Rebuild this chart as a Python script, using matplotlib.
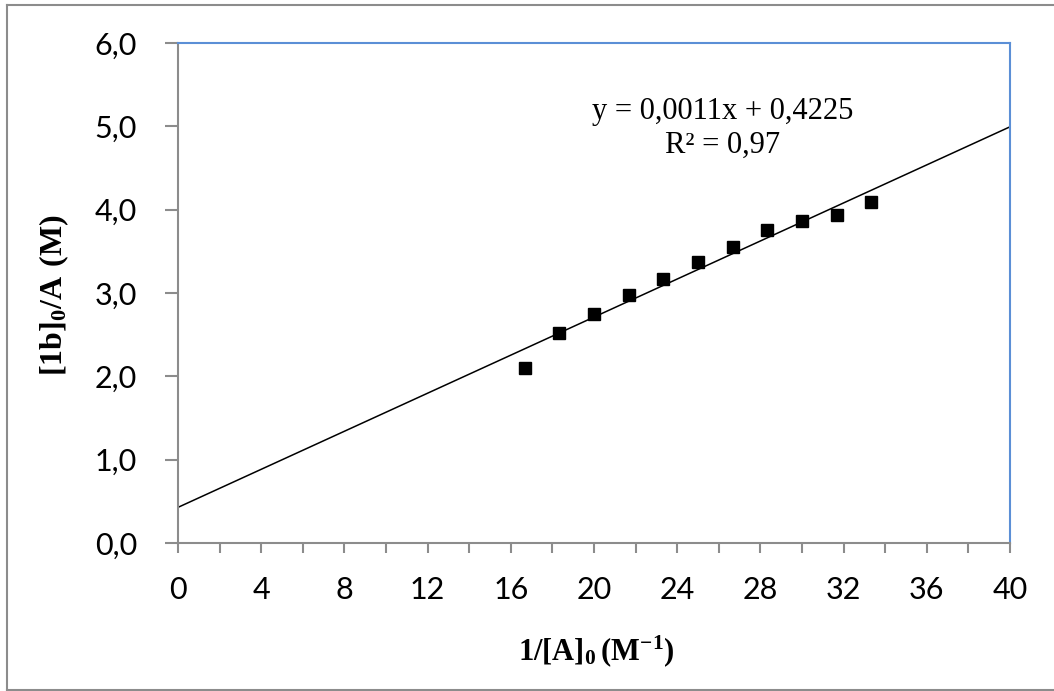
import numpy as np
import matplotlib
matplotlib.use("Agg")
import matplotlib.pyplot as plt
from matplotlib.lines import Line2D
from matplotlib.ticker import MultipleLocator, FuncFormatter

# data
inv_a0 = [16.67, 18.33, 20.00, 21.67, 23.33, 25.00, 26.67, 28.33, 30.00, 31.67, 33.33]
ratio = [2.10, 2.52, 2.75, 2.98, 3.17, 3.37, 3.55, 3.76, 3.87, 3.94, 4.09]
eq_text = "y = 0,0011x + 0,4225"
r2_text = "R² = 0,97"
x_ticks = [0, 4, 8, 12, 16, 20, 24, 28, 32, 36, 40]
y_ticks = [0, 1, 2, 3, 4, 5, 6]

plt.rcParams["mathtext.fontset"] = "custom"
plt.rcParams["mathtext.rm"] = "Liberation Serif:bold"
plt.rcParams["mathtext.bf"] = "Liberation Serif:bold"

W, H = 1054, 691
fig = plt.figure(figsize=(W / 100, H / 100), dpi=100)
ax = fig.add_axes([178 / W, 1 - 543 / H, (1010 - 178) / W, (543 - 43) / H])

grey = "#8c8c8c"
blue = "#5b8fd6"

# trend line from least squares fit
slope, intercept = np.polyfit(inv_a0, ratio, 1)
xl = np.array([0, 40])
ax.plot(xl, slope * xl + intercept, color="black", lw=1.1, zorder=2)
ax.plot(inv_a0, ratio, "s", color="black", markersize=9, zorder=3)

ax.set_xlim(0, 40)
ax.set_ylim(0, 6)
ax.set_xticks(x_ticks)
ax.xaxis.set_minor_locator(MultipleLocator(2))
ax.set_yticks(y_ticks)
ax.yaxis.set_major_formatter(FuncFormatter(lambda v, p: f"{v:.1f}".replace(".", ",")))

for s in ["left", "bottom"]:
    ax.spines[s].set_color(grey)
    ax.spines[s].set_linewidth(1.5)
for s in ["top", "right"]:
    ax.spines[s].set_color(blue)
    ax.spines[s].set_linewidth(1.5)

ax.tick_params(axis="y", which="major", direction="out", length=9.5, width=1.5,
               color=grey, pad=20, labelsize=22)
ax.tick_params(axis="x", which="both", direction="out", length=7.5, width=1.5,
               color=grey, pad=16, labelsize=22)
for lab in ax.get_xticklabels() + ax.get_yticklabels():
    lab.set_fontfamily("Lato")

# trendline label
ax.text(0.655, 0.862, eq_text, transform=ax.transAxes, ha="center", va="center",
        fontsize=22, family="Liberation Serif")
ax.text(0.655, 0.796, r2_text, transform=ax.transAxes, ha="center", va="center",
        fontsize=22, family="Liberation Serif")

fig.text(596 / W, 1 - 651 / H, r"$\mathbf{1/[A]_0\,(M^{-1})}$", ha="center", va="center",
         fontsize=22)
fig.text(54 / W, 1 - 295 / H, r"$\mathbf{[1b]_0/A\ (M)}$", ha="center", va="center",
         fontsize=23, rotation=90)

# outer chart border
for xs, ys in [([6.5 / W, 6.5 / W], [1 - 4.5 / H, 1 - 689.5 / H]),
               ([6.5 / W, 1], [1 - 4.5 / H, 1 - 4.5 / H]),
               ([6.5 / W, 1], [1 - 689.5 / H, 1 - 689.5 / H])]:
    fig.add_artist(Line2D(xs, ys, color=grey, lw=1.5, transform=fig.transFigure))

fig.savefig("out.png", dpi=100)
